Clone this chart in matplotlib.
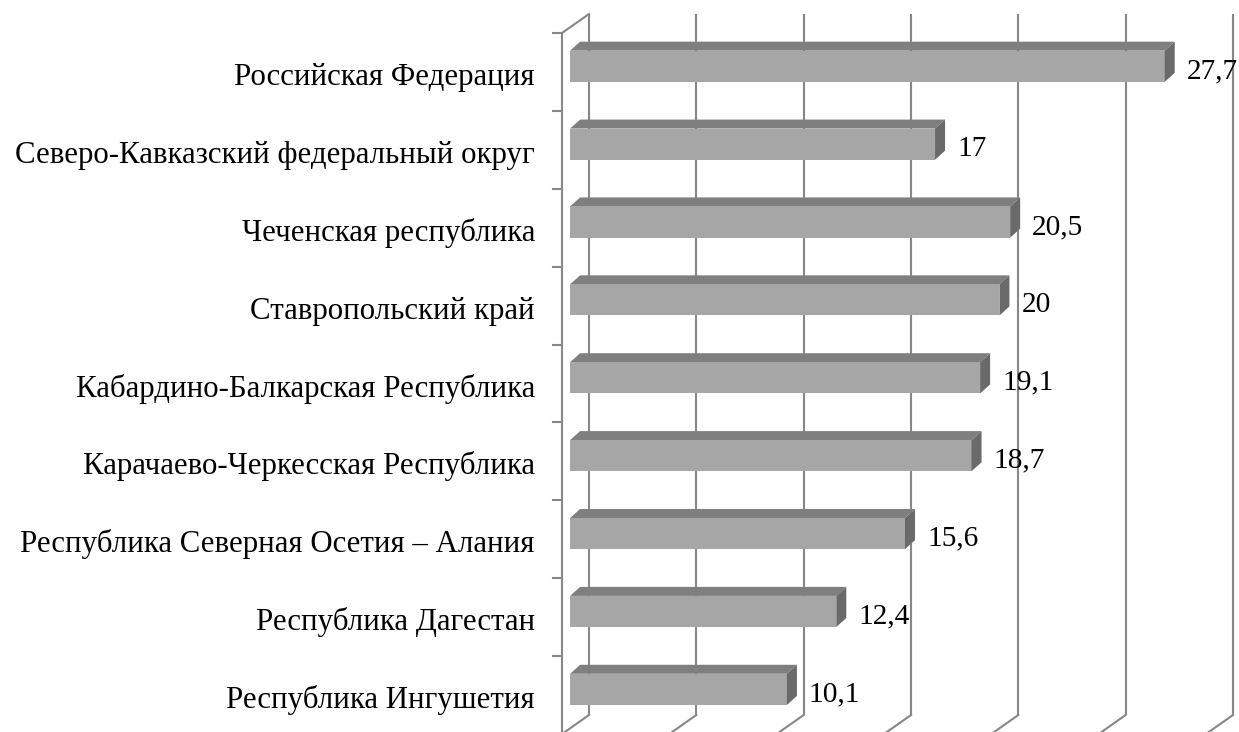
import matplotlib
matplotlib.use("Agg")
import matplotlib.pyplot as plt
from matplotlib.patches import Polygon
import numpy as np

categories = [
    "Российская Федерация",
    "Северо-Кавказский федеральный округ",
    "Чеченская республика",
    "Ставропольский край",
    "Кабардино-Балкарская Республика",
    "Карачаево-Черкесская Республика",
    "Республика Северная Осетия – Алания",
    "Республика Дагестан",
    "Республика Ингушетия",
]
values = [27.7, 17, 20.5, 20, 19.1, 18.7, 15.6, 12.4, 10.1]
value_labels = ["27,7", "17", "20,5", "20", "19,1", "18,7", "15,6", "12,4", "10,1"]
x_ticks = [0, 5, 10, 15, 20, 25, 30]

W, H = 1239, 732
fig = plt.figure(figsize=(W / 100, H / 100), dpi=100)
# back wall of the 3D plot
ax_l, ax_r, ax_t, ax_b = 589, 1233, 14, 715
ax = fig.add_axes([ax_l / W, 1 - ax_b / H, (ax_r - ax_l) / W, (ax_b - ax_t) / H])
n = len(categories)
ax.set_xlim(0, 30)
ax.set_ylim(n - 0.5, -0.5)
ax.axis("off")

px_x = (ax_r - ax_l) / 30.0
px_y = (ax_b - ax_t) / n
DEPTH_X, DEPTH_Y = 27.0, 19.0   # pixel offset of the front plane from the back wall
PT = 72.0 / 100.0               # points per pixel


def off(d):
    """data-unit offset for depth fraction d (0 = back wall, 1 = front)"""
    return -DEPTH_X * d / px_x, DEPTH_Y * d / px_y


grid_c = "#878787"
lw = 1.5
ox1, oy1 = off(1.0)

# back wall gridlines + floor lines
for v in x_ticks:
    ax.plot([v, v], [-0.5, n - 0.5], color=grid_c, lw=lw, clip_on=False, zorder=1,
            solid_capstyle="butt")
    ax.plot([v, v + ox1], [n - 0.5, n - 0.5 + oy1], color=grid_c, lw=lw,
            clip_on=False, zorder=1)

# left wall: front edge, top diagonal, ticks
ax.plot([ox1, ox1], [-0.5 + oy1, n - 0.5 + oy1], color=grid_c, lw=lw, clip_on=False, zorder=1)
ax.plot([0, ox1], [-0.5, -0.5 + oy1], color=grid_c, lw=lw, clip_on=False, zorder=1)
tick_len = 9.0 / px_x
for b in np.arange(-0.5, n, 1.0):
    ax.plot([ox1 - tick_len, ox1], [b + oy1, b + oy1], color=grid_c, lw=lw,
            clip_on=False, zorder=1)

# bars
d_front = 0.70
fx, fy = off(d_front)
bx, by = fx + 10.0 / px_x, fy - 9.0 / px_y   # bar depth: 10 px right, 9 px up
h = 0.2
ypos = np.arange(n)
front_c, top_c, side_c = "#a6a6a6", "#7f7f7f", "#6a6a6a"
ax.barh(ypos + fy, values, left=fx, height=2 * h, color=front_c, zorder=3, clip_on=False)
for i, v in enumerate(values):
    y0 = i - h
    y1 = i + h
    top = Polygon([(fx, y0 + fy), (v + fx, y0 + fy), (v + bx, y0 + by), (bx, y0 + by)],
                  closed=True, facecolor=top_c, edgecolor="none", zorder=2, clip_on=False)
    side = Polygon([(v + fx, y0 + fy), (v + fx, y1 + fy), (v + bx, y1 + by), (v + bx, y0 + by)],
                   closed=True, facecolor=side_c, edgecolor="none", zorder=3, clip_on=False)
    ax.add_patch(top)
    ax.add_patch(side)
    ax.annotate(value_labels[i], xy=(v + bx, i + fy), xytext=(12 * PT, -12 * PT),
                textcoords="offset points", ha="left", va="baseline",
                fontsize=21.2, family="Liberation Serif", annotation_clip=False, zorder=4)

# category labels
for i, c in enumerate(categories):
    ax.annotate(c, xy=(ox1, i + oy1), xytext=(-27 * PT, -13 * PT), textcoords="offset points",
                ha="right", va="baseline", fontsize=22.2, family="Liberation Serif",
                annotation_clip=False)

fig.savefig("out.png", dpi=100)
